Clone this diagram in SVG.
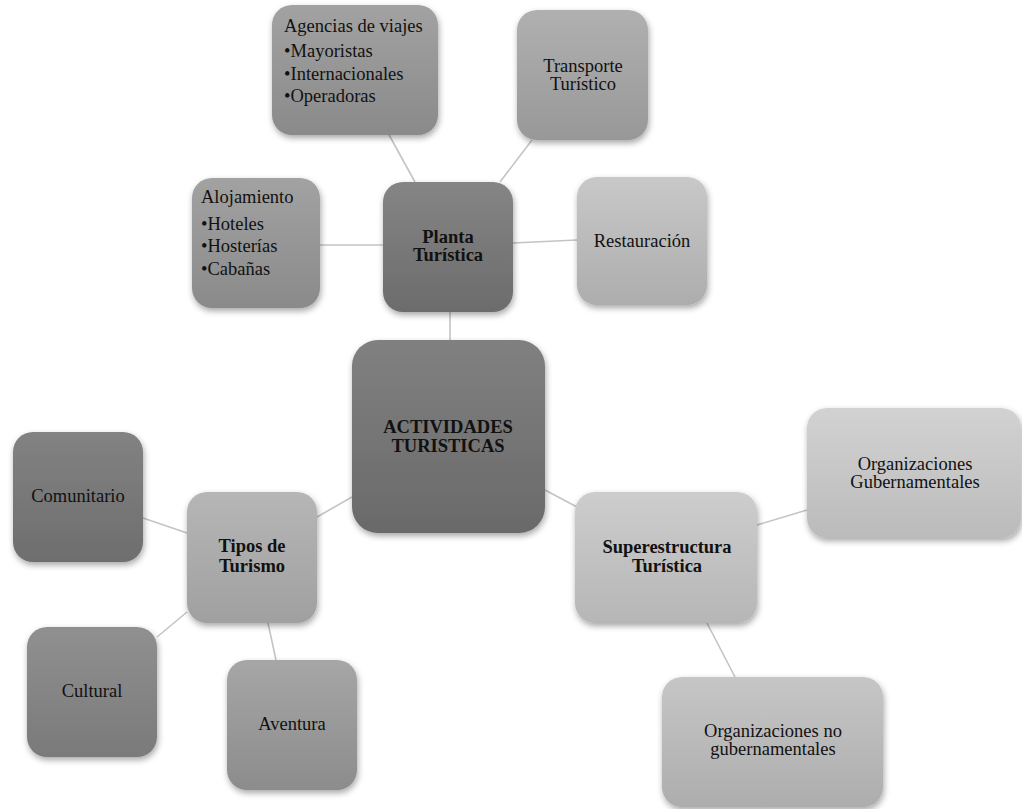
<svg xmlns="http://www.w3.org/2000/svg" width="1022" height="809" viewBox="0 0 1022 809">
<defs>
<filter id="sh" x="-20%" y="-20%" width="140%" height="140%">
<feDropShadow dx="1" dy="3" stdDeviation="3" flood-color="#000" flood-opacity="0.35"/>
</filter>
<linearGradient id="gA" x1="0" y1="0" x2="0" y2="1"><stop offset="0" stop-color="#a2a2a2"/><stop offset="1" stop-color="#8a8a8a"/></linearGradient>
<linearGradient id="gP" x1="0" y1="0" x2="0" y2="1"><stop offset="0" stop-color="#858585"/><stop offset="1" stop-color="#6c6c6c"/></linearGradient>
<linearGradient id="gT" x1="0" y1="0" x2="0" y2="1"><stop offset="0" stop-color="#b0b0b0"/><stop offset="1" stop-color="#989898"/></linearGradient>
<linearGradient id="gR" x1="0" y1="0" x2="0" y2="1"><stop offset="0" stop-color="#c8c8c8"/><stop offset="1" stop-color="#adadad"/></linearGradient>
<linearGradient id="gC" x1="0" y1="0" x2="0" y2="1"><stop offset="0" stop-color="#808080"/><stop offset="1" stop-color="#6a6a6a"/></linearGradient>
<linearGradient id="gCo" x1="0" y1="0" x2="0" y2="1"><stop offset="0" stop-color="#828282"/><stop offset="1" stop-color="#6e6e6e"/></linearGradient>
<linearGradient id="gTi" x1="0" y1="0" x2="0" y2="1"><stop offset="0" stop-color="#b6b6b6"/><stop offset="1" stop-color="#a0a0a0"/></linearGradient>
<linearGradient id="gCu" x1="0" y1="0" x2="0" y2="1"><stop offset="0" stop-color="#909090"/><stop offset="1" stop-color="#7a7a7a"/></linearGradient>
<linearGradient id="gAv" x1="0" y1="0" x2="0" y2="1"><stop offset="0" stop-color="#a6a6a6"/><stop offset="1" stop-color="#8c8c8c"/></linearGradient>
<linearGradient id="gS" x1="0" y1="0" x2="0" y2="1"><stop offset="0" stop-color="#cdcdcd"/><stop offset="1" stop-color="#b6b6b6"/></linearGradient>
<linearGradient id="gG" x1="0" y1="0" x2="0" y2="1"><stop offset="0" stop-color="#d2d2d2"/><stop offset="1" stop-color="#bbbbbb"/></linearGradient>
<linearGradient id="gN" x1="0" y1="0" x2="0" y2="1"><stop offset="0" stop-color="#c6c6c6"/><stop offset="1" stop-color="#adadad"/></linearGradient>
</defs>
<style>
text{font-family:'Liberation Serif','Times New Roman',serif;font-size:18.5px;fill:#111}
.c{text-anchor:middle}
.b{font-weight:bold}
.box{filter:url(#sh)}
.con line{stroke:#c4c4c4;stroke-width:1.6}
</style>
<rect width="1022" height="809" fill="#fff"/>
<g class="con">
<line x1="388" y1="133" x2="415" y2="182"/>
<line x1="532" y1="140" x2="500" y2="182"/>
<line x1="320" y1="245" x2="383" y2="245"/>
<line x1="513" y1="243" x2="577" y2="240"/>
<line x1="450" y1="312" x2="450" y2="340"/>
<line x1="317" y1="517" x2="352" y2="497"/>
<line x1="545" y1="490" x2="577" y2="507"/>
<line x1="143" y1="518" x2="187" y2="533"/>
<line x1="157" y1="637" x2="187" y2="612"/>
<line x1="268" y1="623" x2="276" y2="660"/>
<line x1="757" y1="525" x2="807" y2="510"/>
<line x1="707" y1="623" x2="735" y2="677"/>
</g>
<g id="agencias">
<rect class="box" x="272" y="5" width="166" height="130" rx="20" fill="url(#gA)"/>
<text x="284" y="32">Agencias de viajes</text>
<text x="284" y="57">•Mayoristas</text>
<text x="284" y="80">•Internacionales</text>
<text x="284" y="102">•Operadoras</text>
</g>
<g id="transporte">
<rect class="box" x="517" y="10" width="131" height="130" rx="20" fill="url(#gT)"/>
<text class="c" x="583" y="72">Transporte</text>
<text class="c" x="583" y="90">Turístico</text>
</g>
<g id="alojamiento">
<rect class="box" x="192" y="178" width="128" height="130" rx="20" fill="url(#gA)"/>
<text x="201" y="203">Alojamiento</text>
<text x="201" y="230">•Hoteles</text>
<text x="201" y="252">•Hosterías</text>
<text x="201" y="275">•Cabañas</text>
</g>
<g id="planta">
<rect class="box" x="383" y="182" width="130" height="130" rx="20" fill="url(#gP)"/>
<text class="c b" x="448" y="243">Planta</text>
<text class="c b" x="448" y="261">Turística</text>
</g>
<g id="restauracion">
<rect class="box" x="577" y="177" width="130" height="128" rx="20" fill="url(#gR)"/>
<text class="c" x="642" y="247">Restauración</text>
</g>
<g id="actividades">
<rect class="box" x="352" y="340" width="193" height="193" rx="26" fill="url(#gC)"/>
<text class="c b" x="448" y="433">ACTIVIDADES</text>
<text class="c b" x="448" y="452">TURISTICAS</text>
</g>
<g id="comunitario">
<rect class="box" x="13" y="432" width="130" height="130" rx="20" fill="url(#gCo)"/>
<text class="c" x="78" y="502">Comunitario</text>
</g>
<g id="tipos">
<rect class="box" x="187" y="492" width="130" height="131" rx="20" fill="url(#gTi)"/>
<text class="c b" x="252" y="552">Tipos de</text>
<text class="c b" x="252" y="572">Turismo</text>
</g>
<g id="cultural">
<rect class="box" x="27" y="627" width="130" height="130" rx="20" fill="url(#gCu)"/>
<text class="c" x="92" y="697">Cultural</text>
</g>
<g id="aventura">
<rect class="box" x="227" y="660" width="130" height="130" rx="20" fill="url(#gAv)"/>
<text class="c" x="292" y="730">Aventura</text>
</g>
<g id="superestructura">
<rect class="box" x="575" y="492" width="182" height="131" rx="20" fill="url(#gS)"/>
<text class="c b" x="667" y="553">Superestructura</text>
<text class="c b" x="667" y="572">Turística</text>
</g>
<g id="org-gub">
<rect class="box" x="807" y="408" width="214" height="130" rx="20" fill="url(#gG)"/>
<text class="c" x="915" y="470">Organizaciones</text>
<text class="c" x="915" y="488">Gubernamentales</text>
</g>
<g id="org-no-gub">
<rect class="box" x="662" y="677" width="221" height="130" rx="20" fill="url(#gN)"/>
<text class="c" x="773" y="737">Organizaciones no</text>
<text class="c" x="773" y="755">gubernamentales</text>
</g>
</svg>
